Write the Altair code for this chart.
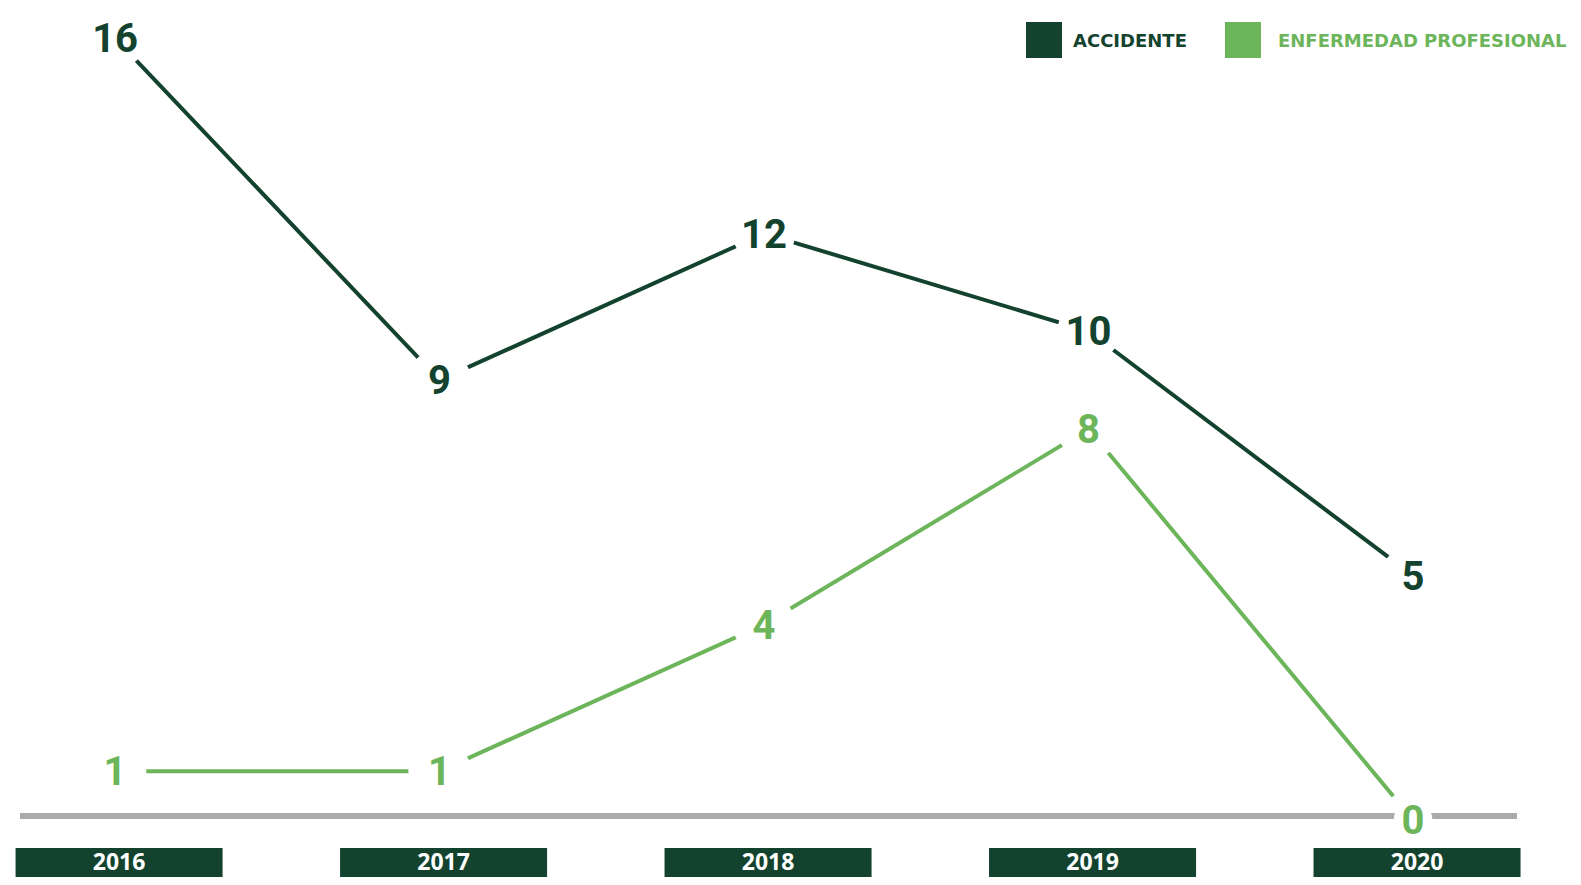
import altair as alt
import pandas as pd

# ---- data ----
years = [2016, 2017, 2018, 2019, 2020]
accidente = [16, 9, 12, 10, 5]
enfermedad = [1, 1, 4, 8, 0]
series_names = ["ACCIDENTE", "ENFERMEDAD PROFESIONAL"]
series_colors = ["#13432f", "#6cb55a"]
year_labels = ["2016", "2017", "2018", "2019", "2020"]

df = pd.DataFrame({
    "year": years * 2,
    "series": [series_names[0]] * len(years) + [series_names[1]] * len(years),
    "value": accidente + enfermedad,
})
years_df = pd.DataFrame({"year": years, "label": year_labels})

W, H = 1565, 869
DARK = series_colors[0]
LIGHT = series_colors[1]
GRAY = "#a9a9ae"

xscale = alt.Scale(domain=[2015.670, 2020.493], nice=False, zero=False)
yscale = alt.Scale(domain=[-1.166, 16.614], nice=False, zero=False)
color = alt.Color("series:N", scale=alt.Scale(domain=series_names, range=series_colors), legend=None)
X = alt.X("year:Q", scale=xscale, axis=None)
Y = alt.Y("value:Q", scale=yscale, axis=None)

base = alt.Chart(df)

lines = base.mark_line(strokeWidth=4, strokeCap="butt").encode(
    x=X, y=Y, color=color, detail="series:N", order="year:Q"
)
masks = base.mark_point(filled=True, shape="circle", size=3900, color="white",
                        opacity=1, strokeWidth=0).encode(x=X, y=Y)

baseline = alt.Chart(years_df).mark_rule(color=GRAY, strokeWidth=5, yOffset=-4).encode(
    x=alt.value(12), x2=alt.value(1509), y=alt.YDatum(0, scale=yscale, axis=None)
)
zero_masks = base.transform_filter("datum.value == 0").mark_point(
    filled=True, shape="circle", size=1500, color="white", opacity=1, strokeWidth=0
).encode(x=X, y=Y)

labels = base.mark_text(
    font="Liberation Sans Narrow, Roboto", fontSize=40, fontWeight="bold",
    baseline="alphabetic", align="center", dy=14
).encode(x=X, y=Y, text="value:Q", color=color)

boxes = alt.Chart(years_df).transform_calculate(
    x1="datum.year - 0.319", x2="datum.year + 0.319"
).mark_rect(color=DARK, xOffset=4, x2Offset=4).encode(
    x=alt.X("x1:Q", scale=xscale, axis=None), x2="x2:Q",
    y=alt.value(840), y2=alt.value(H)
)
box_text = alt.Chart(years_df).mark_text(
    color="white", font="Open Sans", fontSize=23, fontWeight="bold",
    baseline="alphabetic", align="center", xOffset=4
).encode(x=alt.X("year:Q", scale=xscale, axis=None), y=alt.value(862), text="label:N")

leg1_df = pd.DataFrame({"label": [series_names[0]]})
leg2_df = pd.DataFrame({"label": [series_names[1]]})
leg_sq1 = alt.Chart(leg1_df).mark_square(size=1296, color=DARK, opacity=1, strokeWidth=0).encode(
    x=alt.value(1036), y=alt.value(32))
leg_sq2 = alt.Chart(leg2_df).mark_square(size=1296, color=LIGHT, opacity=1, strokeWidth=0).encode(
    x=alt.value(1235), y=alt.value(32))
leg_t1 = alt.Chart(leg1_df).mark_text(color=DARK, font="DejaVu Sans", fontSize=18, fontWeight="bold",
                                      align="left", baseline="alphabetic").encode(
    x=alt.value(1065), y=alt.value(39), text="label:N")
leg_t2 = alt.Chart(leg2_df).mark_text(color=LIGHT, font="DejaVu Sans", fontSize=18, fontWeight="bold",
                                      align="left", baseline="alphabetic").encode(
    x=alt.value(1270), y=alt.value(39), text="label:N")

chart = alt.layer(
    lines, masks, baseline, zero_masks, labels, boxes, box_text,
    leg_sq1, leg_sq2, leg_t1, leg_t2
).properties(
    width=W, height=H, padding=0, autosize="none", background="white"
).configure_view(stroke=None)

chart.save("out.html", embed_options={"renderer": "svg", "actions": False})
